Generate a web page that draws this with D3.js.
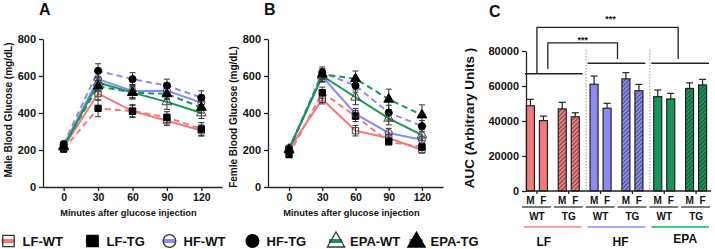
<!DOCTYPE html>
<html>
<head>
<meta charset="utf-8">
<script src="https://cdn.jsdelivr.net/npm/d3@7"></script>
<style>
  body { margin: 0; background: #fff; }
  text { font-family: "Liberation Sans", Arial, sans-serif; font-weight: bold; fill: #111; }
  .axis path, .axis line { stroke: #222; stroke-width: 1.3; }
</style>
</head>
<body>
<script>
// data
const minutes = [0, 30, 60, 90, 120];
const groups = ["LF-WT", "LF-TG", "HF-WT", "HF-TG", "EPA-WT", "EPA-TG"];
const glucoseTicks = [0, 200, 400, 600, 800];
const aucTicks = [0, 20000, 40000, 60000, 80000];

// panel A, male glucose (mg/dL), rows follow `groups`
const maleMeans = [
  [215, 505, 410, 358, 305],
  [205, 425, 410, 377, 313],
  [225, 583, 519, 520, 456],
  [232, 628, 583, 548, 483],
  [215, 565, 510, 460, 400],
  [220, 545, 510, 503, 430]
];
const maleErr = [
  [15, 35, 30, 25, 30],
  [15, 45, 35, 30, 35],
  [15, 30, 35, 40, 30],
  [15, 38, 35, 35, 37],
  [15, 30, 35, 40, 30],
  [15, 30, 30, 30, 30]
];

// panel B, female glucose (mg/dL)
const femaleMeans = [
  [205, 474, 304, 265, 200],
  [175, 510, 384, 244, 217],
  [210, 597, 395, 292, 255],
  [205, 619, 548, 402, 329],
  [205, 600, 485, 371, 280],
  [200, 610, 585, 474, 389]
];
const femaleErr = [
  [15, 25, 28, 20, 15],
  [15, 30, 30, 15, 20],
  [15, 30, 30, 25, 20],
  [15, 30, 35, 40, 30],
  [15, 30, 40, 35, 30],
  [15, 30, 42, 55, 55]
];

// panel C, AUC
const sexes = ["M", "F"];
const aucMale = [48700, 46900, 61000, 64100, 53900, 58600];
const aucMaleErr = [3700, 3800, 4700, 3500, 3800, 3200];
const aucFemale = [40200, 42400, 47300, 57300, 52600, 60600];
const aucFemaleErr = [2600, 2300, 2800, 3600, 3200, 3200];

const dietColor = { LF: "#f47a7a", HF: "#8b8bf3", EPA: "#17955a" };
const dietLight = { LF: "#f6a0a0", HF: "#aaaaf4", EPA: "#3fcf8c" };
const dietShape = { LF: d3.symbolSquare, HF: d3.symbolCircle, EPA: d3.symbolTriangle };
const dietLabelDx = { LF: -9, HF: 4, EPA: 5 };

const dietOf = name => name.split("-")[0];
const isTG = name => name.endsWith("TG");

const svg = d3.select("body").append("svg")
  .attr("width", 715)
  .attr("height", 249);

// hatch patterns for TG bars
const defs = svg.append("defs");
Object.keys(dietColor).forEach(diet => {
  const p = defs.append("pattern")
    .attr("id", "hatch-" + diet)
    .attr("patternUnits", "userSpaceOnUse")
    .attr("width", 3).attr("height", 3)
    .attr("patternTransform", "rotate(45)");
  p.append("rect").attr("width", 3).attr("height", 3).attr("fill", dietColor[diet]);
  p.append("line").attr("x1", 0).attr("y1", 0).attr("x2", 0).attr("y2", 3)
    .attr("stroke", "#222").attr("stroke-width", 1.2);
});

const yG = d3.scaleLinear().domain([0, 800]).range([187, 39]);

function glucosePanel(x, means, errs, title, letter, titleY) {
  const g = svg.append("g");

  g.append("g").attr("class", "axis")
    .attr("transform", `translate(${x.range()[0]},0)`)
    .call(d3.axisLeft(yG).tickValues(glucoseTicks).tickSize(4).tickSizeOuter(0))
    .attr("font-size", 11).attr("font-family", null);

  g.append("g").attr("class", "axis")
    .attr("transform", `translate(0,${yG(0)})`)
    .call(d3.axisBottom(x).tickValues(minutes).tickSize(4).tickSizeOuter(0))
    .attr("font-size", 10.5).attr("font-family", null);

  const line = d3.line().x(d => x(d.m)).y(d => yG(d.v));
  const rows = groups.map((name, i) => ({
    name,
    pts: minutes.map((m, j) => ({ m, v: means[i][j], e: errs[i][j] }))
  }));

  g.selectAll("path.curve").data(rows).join("path")
    .attr("class", "curve")
    .attr("d", d => line(d.pts))
    .attr("fill", "none")
    .attr("stroke", d => dietColor[dietOf(d.name)])
    .attr("stroke-width", 2)
    .attr("stroke-dasharray", d => isTG(d.name) ? "6,4" : null);

  // error bars
  const eb = g.append("g").attr("stroke", "#333").attr("stroke-width", 1);
  rows.forEach(r => {
    r.pts.forEach(p => {
      eb.append("line").attr("x1", x(p.m)).attr("x2", x(p.m))
        .attr("y1", yG(p.v - p.e)).attr("y2", yG(p.v + p.e));
      [p.v - p.e, p.v + p.e].forEach(v => {
        eb.append("line").attr("x1", x(p.m) - 3).attr("x2", x(p.m) + 3)
          .attr("y1", yG(v)).attr("y2", yG(v));
      });
    });
  });

  // markers
  rows.forEach(r => {
    const diet = dietOf(r.name), tg = isTG(r.name);
    g.append("g").selectAll("path").data(r.pts).join("path")
      .attr("transform", d => `translate(${x(d.m)},${yG(d.v)})`)
      .attr("d", d3.symbol().type(dietShape[diet]).size(diet === "EPA" ? 42 : 40))
      .attr("fill", tg ? "#000" : "none")
      .attr("stroke", tg ? "#000" : "#444")
      .attr("stroke-width", 1);
  });

  g.append("text")
    .attr("transform", `translate(${x.range()[0] - 31},${titleY}) rotate(-90)`)
    .attr("text-anchor", "middle")
    .attr("font-size", 10)
    .text(title);

  g.append("text")
    .attr("x", (x.range()[0] + x.range()[1]) / 2 - 4)
    .attr("y", yG(0) + 29)
    .attr("text-anchor", "middle")
    .attr("font-size", 9.3)
    .text("Minutes after glucose injection");

  g.append("text")
    .attr("x", x.range()[0] - 4)
    .attr("y", 15)
    .attr("font-size", 16)
    .text(letter);
}

const xA = d3.scaleLinear().domain([-18, 138]).range([43, 222]);
const xB = d3.scaleLinear().domain([-19, 139]).range([268, 443]);
glucosePanel(xA, maleMeans, maleErr, "Male Blood Glucose (mg/dL)", "A", 110);
glucosePanel(xB, femaleMeans, femaleErr, "Femle Blood Glucose (mg/dL)", "B", 117);

// ---------- panel C ----------
const cLeft = 526;
const yC = d3.scaleLinear().domain([0, 80000]).range([191, 51]);
const x0 = d3.scaleBand().domain(groups).range([cLeft - 5, 712]).paddingInner(0);
const x1 = d3.scaleBand().domain(sexes).range([0, x0.bandwidth()])
  .paddingInner(0.385).paddingOuter(0.415);

const c = svg.append("g");

// dotted separators between diets
["HF-WT", "EPA-WT"].forEach(name => {
  c.append("line")
    .attr("x1", x0(name) + 1.5).attr("x2", x0(name) + 1.5)
    .attr("y1", yC(80000) - 1).attr("y2", yC(0))
    .attr("stroke", "#999").attr("stroke-width", 1)
    .attr("stroke-dasharray", "1.5,1.5");
});

const barData = [];
groups.forEach((name, i) => {
  barData.push({ name, sex: "M", v: aucMale[i], e: aucMaleErr[i] });
  barData.push({ name, sex: "F", v: aucFemale[i], e: aucFemaleErr[i] });
});

// error bars (upward only)
const cErr = c.append("g").attr("stroke", "#222").attr("stroke-width", 1.2);
barData.forEach(d => {
  const cx = x0(d.name) + x1(d.sex) + x1.bandwidth() / 2;
  cErr.append("line").attr("x1", cx).attr("x2", cx).attr("y1", yC(d.v)).attr("y2", yC(d.v + d.e));
  cErr.append("line").attr("x1", cx - 3.5).attr("x2", cx + 3.5).attr("y1", yC(d.v + d.e)).attr("y2", yC(d.v + d.e));
});

c.append("g").selectAll("rect").data(barData).join("rect")
  .attr("x", d => x0(d.name) + x1(d.sex))
  .attr("y", d => yC(d.v))
  .attr("width", x1.bandwidth())
  .attr("height", d => yC(0) - yC(d.v))
  .attr("fill", d => isTG(d.name) ? `url(#hatch-${dietOf(d.name)})` : dietColor[dietOf(d.name)])
  .attr("stroke", "#222")
  .attr("stroke-width", 1.2);

c.append("g").attr("class", "axis")
  .attr("transform", `translate(${cLeft},0)`)
  .call(d3.axisLeft(yC).tickValues(aucTicks).tickSize(4).tickSizeOuter(0).tickFormat(d3.format("d")))
  .attr("font-size", 11).attr("font-family", null);

c.append("g").attr("class", "axis")
  .attr("transform", `translate(0,${yC(0)})`)
  .call(d3.axisBottom(x0).tickSize(3).tickFormat(""))
  .call(g => g.select(".domain").remove());

c.append("line").attr("x1", cLeft).attr("x2", 711)
  .attr("y1", yC(0)).attr("y2", yC(0))
  .attr("stroke", "#222").attr("stroke-width", 1.3);

// M / F labels
c.append("g").selectAll("text").data(barData).join("text")
  .attr("x", d => x0(d.name) + x1(d.sex) + x1.bandwidth() / 2)
  .attr("y", 204)
  .attr("text-anchor", "middle")
  .attr("font-size", 10)
  .text(d => d.sex);

// WT / TG lines and labels
groups.forEach(name => {
  c.append("line")
    .attr("x1", x0(name) + 1).attr("x2", x0(name) + x0.bandwidth() - 2)
    .attr("y1", 207).attr("y2", 207)
    .attr("stroke", "#333").attr("stroke-width", 1.3);
  c.append("text")
    .attr("x", x0(name) + x0.bandwidth() / 2)
    .attr("y", 220)
    .attr("text-anchor", "middle")
    .attr("font-size", 10)
    .text(name.split("-")[1]);
});

// diet underlines and labels
Object.keys(dietColor).forEach(diet => {
  const a = x0(diet + "-WT"), b = x0(diet + "-TG") + x0.bandwidth();
  c.append("line")
    .attr("x1", a + 3).attr("x2", b - 3)
    .attr("y1", 227).attr("y2", 227)
    .attr("stroke", dietLight[diet]).attr("stroke-width", 2);
  c.append("text")
    .attr("x", (a + b) / 2 + dietLabelDx[diet])
    .attr("y", diet === "EPA" ? 243 : 246)
    .attr("text-anchor", "middle")
    .attr("font-size", 12)
    .text(diet);
});

// significance lines and brackets
const sig = c.append("g").attr("fill", "none").attr("stroke", "#222").attr("stroke-width", 1.3);
sig.append("line").attr("x1", x0("LF-WT") + 4).attr("x2", x0("LF-TG") + x0.bandwidth() - 2)
  .attr("y1", yC(67000)).attr("y2", yC(67000));
["HF", "EPA"].forEach(diet => {
  sig.append("line").attr("x1", x0(diet + "-WT") + 3).attr("x2", x0(diet + "-TG") + x0.bandwidth() - 3)
    .attr("y1", yC(73000)).attr("y2", yC(73000));
});
const outerL = x0("LF-WT") + x0.bandwidth() / 2, outerR = x0("EPA-TG") - 2;
const innerL = x0("LF-TG") - 5, innerR = x0("HF-TG") + 1;
sig.append("path").attr("d", `M${outerL},${yC(67000)}V${yC(93500)}H${outerR}V${yC(75500)}`);
sig.append("path").attr("d", `M${innerL},${yC(69700)}V${yC(84600)}H${innerR}V${yC(75500)}`);
c.append("text").attr("x", (outerL + outerR) / 2 + 3).attr("y", 22)
  .attr("text-anchor", "middle").attr("font-size", 9).text("***");
c.append("text").attr("x", (innerL + innerR) / 2).attr("y", 43)
  .attr("text-anchor", "middle").attr("font-size", 9).text("***");

c.append("text")
  .attr("transform", `translate(474,118) rotate(-90)`)
  .attr("text-anchor", "middle")
  .attr("font-size", 13.5)
  .text("AUC (Arbitrary Units )");

c.append("text").attr("x", 489).attr("y", 17).attr("font-size", 16).text("C");

// ---------- legend ----------
const legendSymX = [8.5, 92.5, 169.5, 252.5, 336, 416.5];
const legend = svg.append("g").attr("transform", "translate(0,241)");
groups.forEach((name, i) => {
  const diet = dietOf(name), tg = isTG(name);
  const cx = legendSymX[i];
  legend.append("line")
    .attr("x1", cx - 7).attr("x2", cx + 6)
    .attr("stroke", dietColor[diet]).attr("stroke-width", 4);
  legend.append("path")
    .attr("transform", `translate(${cx},${diet === "EPA" ? 1 : 0})`)
    .attr("d", d3.symbol().type(dietShape[diet]).size(diet === "HF" ? 125 : 130))
    .attr("fill", tg ? "#000" : "none")
    .attr("stroke", tg ? "#000" : "#333")
    .attr("stroke-width", 1.3);
  legend.append("text")
    .attr("x", cx + 14)
    .attr("y", 5)
    .attr("font-size", 13)
    .text(name);
});
</script>
</body>
</html>
